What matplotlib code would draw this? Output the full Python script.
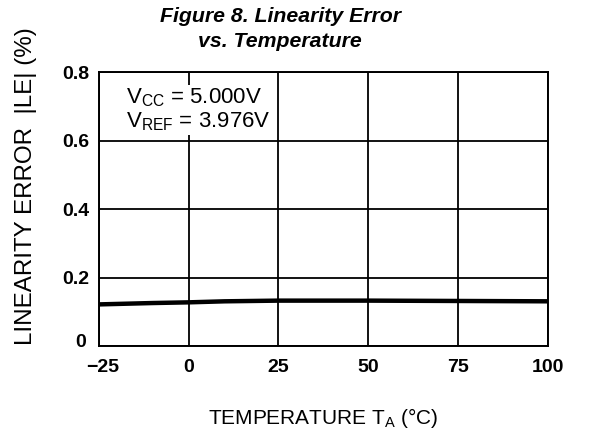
import matplotlib
matplotlib.use('Agg')
import matplotlib.pyplot as plt
import matplotlib.transforms as mtransforms

plt.rcParams['font.family'] = ['Liberation Sans', 'DejaVu Sans']
plt.rcParams['mathtext.fontset'] = 'custom'
plt.rcParams['mathtext.rm'] = 'Liberation Sans'
plt.rcParams['mathtext.it'] = 'Liberation Sans:italic'
plt.rcParams['mathtext.bf'] = 'Liberation Sans:bold'

# data
temperature = [-25, -10, 0, 10, 25, 50, 75, 100]
linearity_error = [0.122, 0.126, 0.128, 0.131, 0.133, 0.133, 0.132, 0.131]
x_ticks = [-25, 0, 25, 50, 75, 100]
y_ticks = [0, 0.2, 0.4, 0.6, 0.8]
y_tick_labels = ['0', '0.2', '0.4', '0.6', '0.8']

fig = plt.figure(figsize=(5.96, 4.29), dpi=100)
ax = fig.add_axes([0.166, 0.193, 0.753, 0.639])

ax.plot(temperature, linearity_error, color='black', lw=3.2, solid_capstyle='butt', zorder=3)

ax.set_xlim(-25, 100)
ax.set_ylim(0, 0.8)
ax.set_xticks(x_ticks)
ax.set_yticks(y_ticks)
ax.set_yticklabels(y_tick_labels)
ax.grid(True, color='black', lw=1.3)
ax.tick_params(axis='x', length=0, labelsize=14, pad=9)
ax.tick_params(axis='y', length=0, labelsize=14, pad=7)
for lab in ax.get_xticklabels() + ax.get_yticklabels():
    lab.set_fontweight('bold')
for s in ax.spines.values():
    s.set_linewidth(1.4)

# the corner labels "0" and "-25" sit a little apart in the original
xl = ax.get_xticklabels()[0]
xl.set_transform(xl.get_transform() + mtransforms.ScaledTranslation(0.04, 0, fig.dpi_scale_trans))
yl = ax.get_yticklabels()[0]
yl.set_transform(yl.get_transform() + mtransforms.ScaledTranslation(-0.03, 0.06, fig.dpi_scale_trans))

ax.set_xlabel(r'TEMPERATURE T$_{\mathregular{A}}$ (°C)', fontsize=15, labelpad=22)
ax.set_ylabel('LINEARITY ERROR  |LE| (%)', fontsize=17.4)
ax.yaxis.set_label_coords(-0.138, 0.584)

ax.text(-17.5, 0.69,
        'V$_{\\mathregular{CC}}$ = 5.000V\nV$_{\\mathregular{REF}}$ = 3.976V',
        fontsize=16, ha='left', va='center', linespacing=1.12,
        bbox=dict(facecolor='white', edgecolor='none', pad=1), zorder=4)

fig.text(0.47, 0.932, 'Figure 8. Linearity Error\nvs. Temperature',
         ha='center', va='center', fontsize=15.3, fontweight='bold',
         fontstyle='italic', linespacing=1.42)

fig.savefig('out.png', dpi=100)
